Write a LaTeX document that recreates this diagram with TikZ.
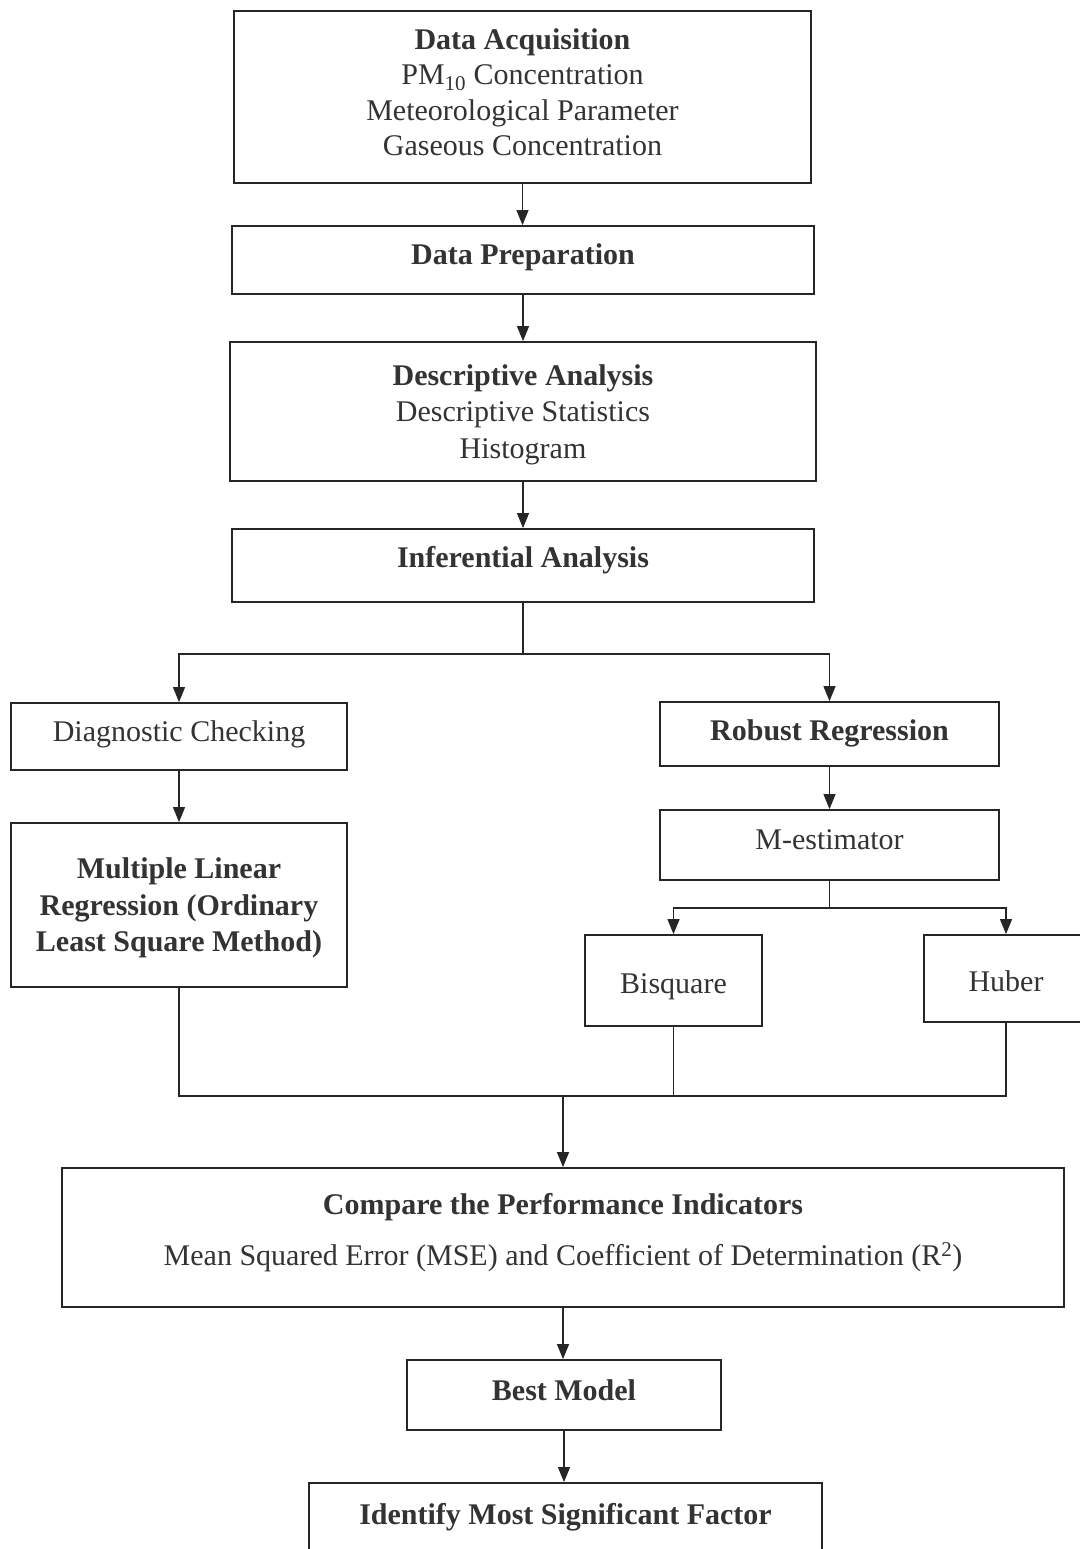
\documentclass[tikz,border=0pt]{standalone}
\usepackage{fontspec}
\setmainfont{Liberation Serif}
\usetikzlibrary{arrows.meta}
\begin{document}
\begin{tikzpicture}[x=1pt,y=-1pt,
  box/.style={draw=black!85, line width=1.8pt, inner sep=0pt, align=center,
    text=black!80, font=\fontsize{30}{36.5}\selectfont},
  one/.style={text height=21pt, text depth=12pt},
  conn/.style={draw=black!85, line width=1.2pt},
  arr/.style={conn, -{Triangle[length=15pt,width=12pt]}}]
\useasboundingbox (0,0) rectangle (1079,1549);
\fill[white] (0,0) rectangle (1079,1549);

\node[box, minimum width=577pt, minimum height=172pt, text depth=10pt,
  font=\fontsize{30}{35.5}\selectfont] (acq) at (522.5,97)
  {\textbf{Data Acquisition}\\PM\textsubscript{10} Concentration\\Meteorological Parameter\\Gaseous Concentration};
\node[box, one, minimum width=582pt, minimum height=68pt] (prep) at (523,260)
  {\textbf{Data Preparation}};
\node[box, text depth=0pt, minimum width=586pt, minimum height=139pt] (desc) at (523,411.5)
  {\textbf{Descriptive Analysis}\\Descriptive Statistics\\Histogram};
\node[box, text height=21pt, text depth=17pt, minimum width=582pt, minimum height=73pt] (inf) at (523,565.5)
  {\textbf{Inferential Analysis}};
\node[box, one, minimum width=336pt, minimum height=67pt] (diag) at (179,736.5)
  {Diagnostic Checking};
\node[box, text depth=-5pt, minimum width=336pt, minimum height=164pt] (mlr) at (179,905)
  {\textbf{Multiple Linear}\\\textbf{Regression (Ordinary}\\\textbf{Least Square Method)}};
\node[box, text height=21pt, text depth=9pt, minimum width=339pt, minimum height=64pt] (rob) at (829.5,734)
  {\textbf{Robust Regression}};
\node[box, one, minimum width=339pt, minimum height=70pt] (mest) at (829.5,845)
  {M-estimator};
\node[box, text height=30pt, text depth=4pt, minimum width=177pt, minimum height=91pt] (bis) at (673.5,980.5)
  {Bisquare};
\node[box, text height=30pt, text depth=4pt, minimum width=164pt, minimum height=87pt] (hub) at (1006,978.5)
  {Huber};
\node[box, text depth=16pt, minimum width=1002pt, minimum height=139pt] (cmp) at (563,1237.5)
  {\textbf{Compare the Performance Indicators}\\[15pt]Mean Squared Error (MSE) and Coefficient of Determination (R\textsuperscript{2})};
\node[box, text height=21pt, text depth=10pt, minimum width=314pt, minimum height=70pt] (best) at (564,1395)
  {\textbf{Best Model}};
\node[box, minimum width=513pt, text height=41pt, text depth=46pt] (ident) at (565.5,1526.5)
  {\textbf{Identify Most Significant Factor}};

\draw[arr] (acq.south) -- (acq.south |- prep.north);
\draw[arr] (prep.south) -- (prep.south |- desc.north);
\draw[arr] (desc.south) -- (desc.south |- inf.north);

\coordinate (j1) at (523,654);
\draw[conn] (inf.south) -- (j1);
\draw[arr] (j1) -| (diag.north);
\draw[arr] (j1) -| (rob.north);

\draw[arr] (diag.south) -- (mlr.north);
\draw[arr] (rob.south) -- (mest.north);

\coordinate (j2) at (829.5,908);
\draw[conn] (mest.south) -- (j2);
\draw[arr] (j2) -| (bis.north);
\draw[arr] (j2) -| (hub.north);

\coordinate (j3) at (563,1096);
\draw[conn] (mlr.south) |- (bis.south |- j3);
\draw[conn] (bis.south) -- (bis.south |- j3);
\draw[conn] (hub.south) |- (j3);
\draw[arr] (j3) -- (cmp.north);

\draw[arr] (cmp.south) -- (cmp.south |- best.north);
\draw[arr] (best.south) -- (best.south |- ident.north);
\end{tikzpicture}
\end{document}
